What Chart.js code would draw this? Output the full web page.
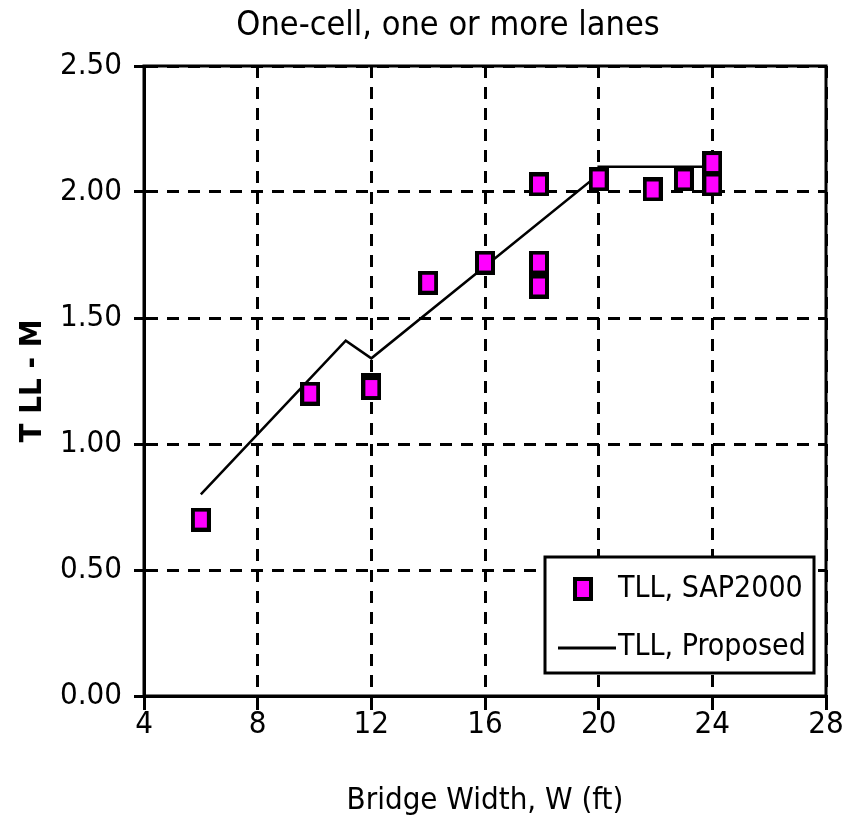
<!DOCTYPE html>
<html>
<head>
<meta charset="utf-8">
<script src="https://cdn.jsdelivr.net/npm/chart.js@4.4.1/dist/chart.umd.min.js"></script>
<style>
  html, body { margin: 0; padding: 0; background: #ffffff; }
  #wrap { width: 848px; height: 840px; }
</style>
</head>
<body>
<div id="wrap"><canvas id="chart" width="848" height="840"></canvas></div>
<script>
// TLL from SAP2000 analyses (bridge width in ft)
const sapWidths = [6, 9.85, 12, 12, 14, 16, 17.9, 17.9, 17.9, 20, 21.9, 23, 24, 24];
const sapTll    = [0.70, 1.20, 1.235, 1.222, 1.64, 1.72, 2.03, 1.72, 1.625, 2.05, 2.01, 2.05, 2.115, 2.03];

// Proposed TLL expression
const propWidths = [6, 11.1, 12, 20, 20, 24];
const propTll    = [0.80, 1.41, 1.34, 2.07, 2.10, 2.10];

const xTickValues = [4, 8, 12, 16, 20, 24, 28];
const yTickValues = [0.00, 0.50, 1.00, 1.50, 2.00, 2.50];

const titleText  = 'One-cell, one or more lanes';
const xTitleText = 'Bridge Width, W (ft)';
const yTitleText = 'T LL - M';
const seriesLabels = ['TLL, SAP2000', 'TLL, Proposed'];

const FONT = "'Liberation Sans Narrow', 'DejaVu Sans Condensed', 'Arial Narrow', 'Liberation Sans', sans-serif";
const MAGENTA = '#ff00ff';

// Boxed magenta marker: black frame with a magenta core
function makeMarker() {
  const c = document.createElement('canvas');
  c.width = 20; c.height = 24;
  const g = c.getContext('2d');
  g.fillStyle = '#000000';
  g.fillRect(0, 0, 20, 24);
  g.fillStyle = MAGENTA;
  g.fillRect(4, 4, 12, 16);
  return c;
}
const marker = makeMarker();

const toXY = (xs, ys) => xs.map((x, i) => ({ x: x, y: ys[i] }));

// Chart heading above the plotting area
const headingPlugin = {
  id: 'heading',
  afterDraw(chart) {
    const { ctx } = chart;
    ctx.save();
    ctx.font = '34px ' + FONT;
    ctx.fillStyle = '#000000';
    ctx.textAlign = 'center';
    ctx.textBaseline = 'middle';
    ctx.fillText(titleText, 448, 26);
    ctx.restore();
  }
};

// Solid frame around the plotting area
const framePlugin = {
  id: 'frame',
  beforeDatasetsDraw(chart) {
    const { ctx, chartArea: a } = chart;
    ctx.save();
    ctx.strokeStyle = '#000000';
    ctx.lineWidth = 3;
    ctx.strokeRect(a.left, a.top, a.right - a.left, a.bottom - a.top);
    ctx.restore();
  }
};

// Boxed legend in the lower right of the plot
const boxLegend = {
  id: 'boxLegend',
  afterDatasetsDraw(chart) {
    const { ctx } = chart;
    const ds = chart.data.datasets;
    const bx = 545, by = 557, bw = 269, bh = 116;
    ctx.save();
    ctx.fillStyle = '#ffffff';
    ctx.fillRect(bx, by, bw, bh);
    ctx.strokeStyle = '#000000';
    ctx.lineWidth = 3;
    ctx.strokeRect(bx, by, bw, bh);

    ctx.font = '30px ' + FONT;
    ctx.fillStyle = '#000000';
    ctx.textBaseline = 'middle';
    ctx.textAlign = 'left';

    // row 1: marker
    ctx.drawImage(marker, 583 - 10, 589 - 12);
    ctx.fillText(ds[0].label, 618, 589);

    // row 2: line sample
    ctx.strokeStyle = ds[1].borderColor;
    ctx.lineWidth = 3;
    ctx.beginPath();
    ctx.moveTo(558, 648);
    ctx.lineTo(616, 648);
    ctx.stroke();
    ctx.fillText(ds[1].label, 618, 647);
    ctx.restore();
  }
};

new Chart(document.getElementById('chart'), {
  type: 'scatter',
  data: {
    datasets: [
      {
        label: seriesLabels[0],
        data: toXY(sapWidths, sapTll),
        pointStyle: marker,
        pointRadius: 10,
        showLine: false
      },
      {
        label: seriesLabels[1],
        data: toXY(propWidths, propTll),
        showLine: true,
        borderColor: '#000000',
        borderWidth: 2.5,
        pointRadius: 0,
        tension: 0
      }
    ]
  },
  options: {
    responsive: false,
    animation: false,
    devicePixelRatio: 1,
    layout: { padding: { left: 0, right: 22, top: 66, bottom: 0 } },
    plugins: {
      legend: { display: false },
      tooltip: { enabled: false },
      title: { display: false }
    },
    scales: {
      x: {
        type: 'linear',
        min: 4, max: 28,
        afterBuildTicks(scale) { scale.ticks = xTickValues.map(v => ({ value: v })); },
        afterFit(scale) { scale.height = 144; },
        ticks: {
          color: '#000000',
          font: { family: FONT, size: 31, lineHeight: 1 },
          padding: -1,
          maxRotation: 0,
          autoSkip: false,
          callback: v => String(v)
        },
        grid: {
          color: '#000000',
          lineWidth: 3,
          drawTicks: true,
          tickLength: 14,
          tickWidth: 3,
          tickColor: '#000000'
        },
        border: { display: true, color: '#000000', width: 3, dash: [12, 9] },
        title: {
          display: true,
          text: xTitleText,
          color: '#000000',
          font: { family: FONT, size: 31, lineHeight: 1.2 },
          padding: { top: 0, bottom: 20 }
        }
      },
      y: {
        type: 'linear',
        min: 0, max: 2.5,
        afterBuildTicks(scale) { scale.ticks = yTickValues.map(v => ({ value: v })); },
        afterFit(scale) { scale.width = 144; },
        ticks: {
          color: '#000000',
          font: { family: FONT, size: 31, lineHeight: 1 },
          padding: 12,
          autoSkip: false,
          callback: v => Number(v).toFixed(2)
        },
        grid: {
          color: '#000000',
          lineWidth: 3,
          drawTicks: true,
          tickLength: 10,
          tickWidth: 3,
          tickColor: '#000000'
        },
        border: { display: true, color: '#000000', width: 3, dash: [12, 9] },
        title: {
          display: true,
          text: yTitleText,
          color: '#000000',
          font: { family: FONT, size: 31, weight: 'bold', lineHeight: 1.2 },
          padding: { top: 14, bottom: 0 }
        }
      }
    }
  },
  plugins: [framePlugin, boxLegend, headingPlugin]
});
</script>
</body>
</html>
